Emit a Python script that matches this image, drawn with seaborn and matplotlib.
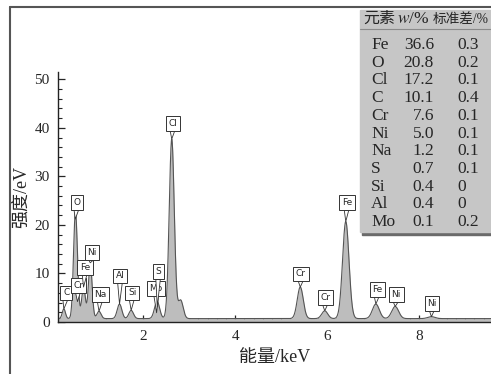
import numpy as np
import pandas as pd
import matplotlib
matplotlib.use('Agg')
import matplotlib.pyplot as plt
from matplotlib.lines import Line2D
from matplotlib.patches import Rectangle
import seaborn as sns

# peaks
peak_names = ['C', 'O', 'Cr', 'Fe', 'Ni', 'Na', 'Al', 'Si', 'Mo', 'S', 'Cl', 'Cl',
              'Cr', 'Cr', 'Fe', 'Fe', 'Ni', 'Ni']
peak_kev = [0.277, 0.525, 0.573, 0.705, 0.851, 1.041, 1.487, 1.740, 2.293, 2.307,
            2.622, 2.815, 5.415, 5.947, 6.404, 7.058, 7.478, 8.265]
peak_height = [2.0, 20.5, 3.5, 6.5, 11.5, 1.5, 3.0, 1.7, 1.2, 2.4,
               37.0, 3.8, 6.5, 1.6, 20.0, 3.0, 2.5, 0.4]
peak_sigma = [0.035, 0.04, 0.035, 0.04, 0.04, 0.045, 0.05, 0.05, 0.055, 0.055,
              0.055, 0.055, 0.065, 0.065, 0.07, 0.075, 0.075, 0.08]
baseline = 0.7

# callout label positions (keV, eV)
label_names = ['C', 'O', 'Cr', 'Fe', 'Ni', 'Na', 'Al', 'Si', 'Mo', 'S', 'Cl',
               'Cr', 'Cr', 'Fe', 'Fe', 'Ni', 'Ni']
label_peak = [0, 1, 2, 3, 4, 5, 6, 7, 8, 9, 10, 12, 13, 14, 15, 16, 17]
label_x = [0.33, 0.565, 0.59, 0.74, 0.89, 1.07, 1.50, 1.76, 2.28, 2.33, 2.65,
           5.43, 5.96, 6.43, 7.09, 7.50, 8.28]
label_y = [5.1, 23.7, 6.6, 10.3, 13.4, 4.7, 8.6, 5.1, 6.0, 9.5, 40.0,
           9.0, 4.1, 23.7, 5.8, 4.7, 2.9]

# composition table
elements = ['Fe', 'O', 'Cl', 'C', 'Cr', 'Ni', 'Na', 'S', 'Si', 'Al', 'Mo']
wt_pct = ['36.6', '20.8', '17.2', '10.1', '7.6', '5.0', '1.2', '0.7', '0.4', '0.4', '0.1']
std_pct = ['0.3', '0.2', '0.1', '0.4', '0.1', '0.1', '0.1', '0.1', '0', '0', '0.2']

sns.set_style('ticks')
plt.rcParams['font.family'] = ['Liberation Serif', 'Noto Sans CJK SC']
plt.rcParams['mathtext.fontset'] = 'stix'

energy = np.linspace(0.15, 9.6, 3000)
counts = np.full_like(energy, baseline)
for mu, h, s in zip(peak_kev, peak_height, peak_sigma):
    counts += h * np.exp(-0.5 * ((energy - mu) / s) ** 2)
df = pd.DataFrame({'energy': energy, 'counts': counts})

fig = plt.figure(figsize=(4.91, 3.74), dpi=100)
ax = fig.add_axes([58 / 491, 52 / 374, 433 / 491, 250 / 374])

ax.fill_between(df['energy'], 0, df['counts'], color='#bdbdbd', lw=0)
sns.lineplot(data=df, x='energy', y='counts', ax=ax, color='#555555', lw=0.8)

for name, i, lx, ly in zip(label_names, label_peak, label_x, label_y):
    top = peak_height[i] + baseline
    ax.annotate(name, xy=(peak_kev[i], top), xytext=(lx, ly),
                ha='center', va='bottom', fontsize=6.5, family='DejaVu Sans',
                bbox=dict(boxstyle='square,pad=0.3', fc='white', ec='#333333', lw=0.7),
                arrowprops=dict(arrowstyle='wedge,tail_width=0.5', fc='white',
                                ec='#333333', lw=0.6, shrinkA=0, shrinkB=0))

ax.set_xlim(0.15, 9.56)
ax.set_ylim(0, 51.5)
ax.set_xticks([2, 4, 6, 8])
ax.set_xticks(np.arange(0.2, 9.6, 0.2), minor=True)
ax.set_yticks([0, 10, 20, 30, 40, 50])
ax.set_yticks(np.arange(0, 51, 2), minor=True)
ax.tick_params(direction='in', which='major', length=5, width=0.9, labelsize=11, pad=6)
ax.tick_params(direction='in', which='minor', length=3, width=0.8)
ax.set_xlabel('能量/keV', fontsize=13, labelpad=4)
ax.set_ylabel('强度/eV', fontsize=13, labelpad=3)
sns.despine(ax=ax)
for sp in ['left', 'bottom']:
    ax.spines[sp].set_color('#222222')
    ax.spines[sp].set_linewidth(1.0)

# outer frame
fig.add_artist(Line2D([10 / 491, 10 / 491], [0, 1 - 7 / 374], color='#555555', lw=1.5))
fig.add_artist(Line2D([10 / 491, 1], [1 - 7 / 374, 1 - 7 / 374], color='#555555', lw=1.5))

# table panel
x0, y_top, y_bot = 360 / 491, 1 - 10 / 374, 1 - 232 / 374
fig.add_artist(Rectangle((x0 + 0.004, y_bot - 0.008), 1, y_top - y_bot, color='#6a6a6a'))
fig.add_artist(Rectangle((x0, y_bot), 1, y_top - y_bot, color='#c6c6c6'))
fig.add_artist(Line2D([x0, 1], [1 - 29 / 374, 1 - 29 / 374], color='#8a8a8a', lw=0.8))

fig.text(363 / 491, 1 - 19 / 374, '元素', fontsize=11.5, va='center', ha='left')
fig.text(397 / 491, 1 - 19 / 374, '$w$/%', fontsize=12.5, va='center', ha='left')
fig.text(433 / 491, 1 - 19 / 374, '标准差/%', fontsize=9.8, va='center', ha='left')
for k, (el, w, sd) in enumerate(zip(elements, wt_pct, std_pct)):
    yy = 1 - (45 + k * 17.7) / 374
    fig.text(371 / 491, yy, el, fontsize=12.5, va='center', ha='left')
    fig.text(434 / 491, yy, w, fontsize=12.5, va='center', ha='right')
    fig.text(457 / 491, yy, sd, fontsize=12.5, va='center', ha='left')

fig.savefig('out.png', dpi=100)
